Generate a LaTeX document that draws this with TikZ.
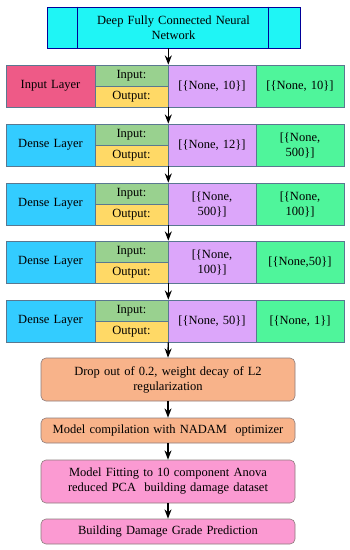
\documentclass[tikz,border=0pt]{standalone}
\usepackage{fontspec}
\setmainfont{Liberation Serif}
\usepackage{xcolor}
\usepackage{tikz}
\usetikzlibrary{arrows.meta,calc}

\definecolor{cyanbox}{HTML}{1FF5F5}
\definecolor{pinkred}{HTML}{EE5A87}
\definecolor{skyblue}{HTML}{33CCFF}
\definecolor{ingreen}{HTML}{99D18F}
\definecolor{outyellow}{HTML}{FFD966}
\definecolor{lilac}{HTML}{DCA6FA}
\definecolor{mint}{HTML}{4FF59B}
\definecolor{peach}{HTML}{F8B38A}
\definecolor{rosebox}{HTML}{FB9AD2}
\definecolor{rowedge}{HTML}{5A7890}
\definecolor{stepedge}{HTML}{8C7C7C}

\begin{document}
\begin{tikzpicture}[
  x=1pt, y=-1pt,
  font=\fontsize{12.5}{15}\selectfont,
  >=Stealth,
  cell/.style={draw=rowedge, semithick, align=center, inner sep=0pt,
               minimum height=42pt, minimum width=88pt, text width=86pt},
  namecell/.style={cell, minimum width=89pt, text width=87pt},
  iocell/.style={draw=rowedge, semithick, align=center, inner sep=0pt,
                 minimum width=73pt, minimum height=21pt},
  stepbox/.style={draw=stepedge, semithick, rounded corners=5pt, align=center,
                  minimum width=254pt, text width=250pt, inner sep=1pt},
  arr/.style={->, line width=1.4pt}
]
\useasboundingbox (0,0) rectangle (349,550);

% ---- title ----
\node[draw=blue!60!black, semithick, fill=cyanbox, align=center,
      minimum width=253pt, minimum height=41pt, text width=186pt] (top) at (173.5,27.5)
      {Deep Fully Connected Neural\\Network};
\draw[blue!60!black, semithick] ($(top.north west)+(31,0)$) -- ($(top.south west)+(31,0)$);
\draw[blue!60!black, semithick] ($(top.north east)+(-32,0)$) -- ($(top.south east)+(-32,0)$);

% ---- input layer ----
\node[namecell, fill=pinkred]   (n1) at (50.5,86)    {Input Layer};
\node[iocell, fill=ingreen]     (i1) at (131.5,75.5) {Input:};
\node[iocell, fill=outyellow]   (o1) at (131.5,96.5) {Output:};
\node[cell, fill=lilac]         (p1) at (212,86)     {[\{None, 10\}]};
\node[cell, fill=mint]          (g1) at (300,86)     {[\{None, 10\}]};

% ---- dense layer 1 ----
\node[namecell, fill=skyblue]   (n2) at (50.5,145)    {Dense Layer};
\node[iocell, fill=ingreen]     (i2) at (131.5,134.5) {Input:};
\node[iocell, fill=outyellow]   (o2) at (131.5,155.5) {Output:};
\node[cell, fill=lilac]         (p2) at (212,145)     {[\{None, 12\}]};
\node[cell, fill=mint]          (g2) at (300,145)     {[\{None,\\500\}]};

% ---- dense layer 2 ----
\node[namecell, fill=skyblue]   (n3) at (50.5,204)    {Dense Layer};
\node[iocell, fill=ingreen]     (i3) at (131.5,193.5) {Input:};
\node[iocell, fill=outyellow]   (o3) at (131.5,214.5) {Output:};
\node[cell, fill=lilac]         (p3) at (212,204)     {[\{None,\\500\}]};
\node[cell, fill=mint]          (g3) at (300,204)     {[\{None,\\100\}]};

% ---- dense layer 3 ----
\node[namecell, fill=skyblue]   (n4) at (50.5,262)    {Dense Layer};
\node[iocell, fill=ingreen]     (i4) at (131.5,251.5) {Input:};
\node[iocell, fill=outyellow]   (o4) at (131.5,272.5) {Output:};
\node[cell, fill=lilac]         (p4) at (212,262)     {[\{None,\\100\}]};
\node[cell, fill=mint]          (g4) at (300,262)     {[\{None,50\}]};

% ---- dense layer 4 ----
\node[namecell, fill=skyblue]   (n5) at (50.5,321)    {Dense Layer};
\node[iocell, fill=ingreen]     (i5) at (131.5,310.5) {Input:};
\node[iocell, fill=outyellow]   (o5) at (131.5,331.5) {Output:};
\node[cell, fill=lilac]         (p5) at (212,321)     {[\{None, 50\}]};
\node[cell, fill=mint]          (g5) at (300,321)     {[\{None, 1\}]};

% ---- training steps ----
\node[stepbox, fill=peach, minimum height=43pt]   (drop) at (168,379.5)
      {Drop out of 0.2, weight decay of L2\\regularization};
\node[stepbox, fill=peach, minimum height=25pt]   (comp) at (168,430.5)
      {Model compilation with NADAM\ \ optimizer};
\node[stepbox, fill=rosebox, minimum height=43pt] (fit)  at (168,481.5)
      {Model Fitting to 10 component Anova\\reduced PCA\ \ building damage dataset};
\node[stepbox, fill=rosebox, minimum height=25pt] (pred) at (168,531.5)
      {Building Damage Grade Prediction};

% ---- flow ----
\draw[arr] (top.south -| i1.east) -- (i1.north east);
\draw[arr] (o1.south east) -- (i2.north east);
\draw[arr] (o2.south east) -- (i3.north east);
\draw[arr] (o3.south east) -- (i4.north east);
\draw[arr] (o4.south east) -- (i5.north east);
\draw[arr] (o5.south east) -- (drop.north);
\draw[arr] (drop) -- (comp);
\draw[arr] (comp) -- (fit);
\draw[arr] (fit) -- (pred);
\end{tikzpicture}
\end{document}
